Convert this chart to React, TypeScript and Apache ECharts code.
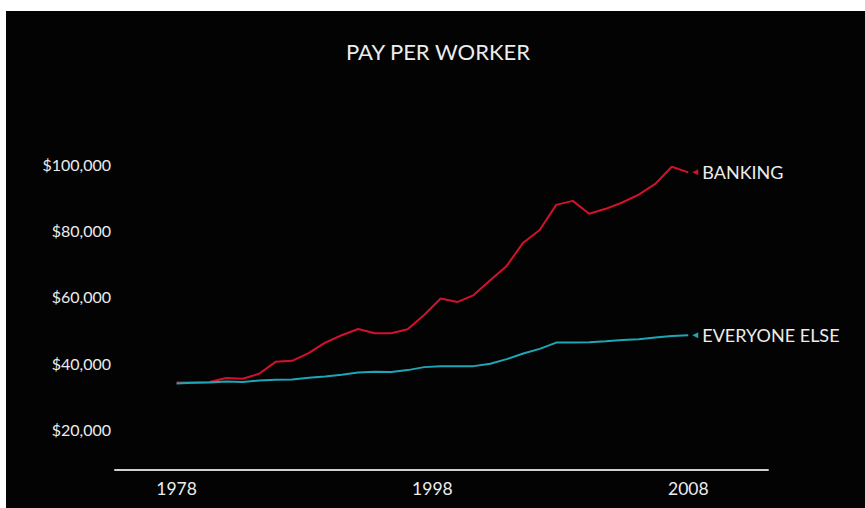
import React, { useEffect, useRef } from "react";
import * as echarts from "echarts";

const title = "PAY PER WORKER";
const seriesNames = ["BANKING", "EVERYONE ELSE"];
const banking = [
  34200, 34200, 34300, 35500, 35300, 36800, 40400, 40700, 43000, 46200,
  48400, 50300, 49000, 49000, 50200, 54500, 59500, 58400, 60500, 65000,
  69300, 76300, 80100, 87700, 88900, 85000, 86500, 88400, 90800, 94000,
  99200, 97500,
];
const everyoneElse = [
  33900, 34100, 34200, 34500, 34300, 34800, 35000, 35100, 35600, 36000,
  36500, 37200, 37400, 37300, 37900, 38800, 39100, 39100, 39100, 39800,
  41200, 42900, 44300, 46200, 46200, 46300, 46600, 47000, 47200, 47700,
  48200, 48400,
];
const xTickPositions = [0, 15.5, 31];
const xTickLabels = ["1978", "1998", "2008"];
const yTicks = [20000, 40000, 60000, 80000, 100000];

const RED = "#d3112c";
const TEAL = "#1fa6b6";
const TEXT = "#ececec";
const FONT = "Lato, 'Open Sans', sans-serif";

export default function App() {
  const ref = useRef<HTMLDivElement>(null);
  useEffect(() => {
    if (!ref.current) return;
    const chart = echarts.init(ref.current, undefined, { renderer: "svg" });
    const mk = (name: string, vals: number[], color: string) => ({
      name,
      type: "line",
      data: vals.map((v, i) => [i, v]),
      showSymbol: false,
      symbol: "none",
      lineStyle: { color, width: 2 },
      itemStyle: { color },
      endLabel: {
        show: true,
        formatter: () => name,
        color: TEXT,
        fontFamily: FONT,
        fontSize: 18,
        distance: 14,
      },
      markPoint: {
        symbol: "triangle",
        symbolSize: [6, 6],
        symbolRotate: 90,
        symbolOffset: [7, 0],
        itemStyle: { color },
        label: { show: false },
        data: [{ coord: [vals.length - 1, vals[vals.length - 1]] }],
      },
    });
    chart.setOption({
      animation: false,
      backgroundColor: "transparent",
      title: {
        text: title,
        left: 427,
        textAlign: "center",
        top: 24,
        textStyle: {
          color: TEXT,
          fontFamily: FONT,
          fontWeight: "normal",
          fontSize: 22,
        },
      },
      grid: { left: 109, right: 97, top: 85, bottom: 38, containLabel: false },
      xAxis: {
        type: "value",
        min: -3.73,
        max: 35.83,
        splitLine: { show: false },
        axisTick: { show: false },
        axisLine: { show: true, lineStyle: { color: "#cfcfcf", width: 2 } },
        axisLabel: {
          customValues: xTickPositions,
          formatter: (v: number) => {
            const idx = xTickPositions.indexOf(v);
            return idx >= 0 ? xTickLabels[idx] : "";
          },
          color: TEXT,
          fontFamily: FONT,
          fontSize: 17.5,
          margin: 9,
        },
      },
      yAxis: {
        type: "value",
        min: 7800,
        max: 120500,
        splitLine: { show: false },
        axisLine: { show: false },
        axisTick: { show: false },
        axisLabel: {
          customValues: yTicks,
          formatter: (v: number) => "$" + v.toLocaleString("en-US"),
          color: TEXT,
          fontFamily: FONT,
          fontSize: 16,
          margin: 4,
        },
      },
      series: [
        mk(seriesNames[0], banking, RED),
        mk(seriesNames[1], everyoneElse, TEAL),
      ],
    });
    return () => chart.dispose();
  }, []);
  return (
    <div
      style={{
        position: "absolute",
        left: 0,
        top: 0,
        width: 865,
        height: 508,
        background: "#ffffff",
      }}
    >
      <div
        ref={ref}
        style={{
          position: "absolute",
          left: 6,
          top: 11,
          width: 859,
          height: 497,
          background: "#030303",
        }}
      />
    </div>
  );
}
